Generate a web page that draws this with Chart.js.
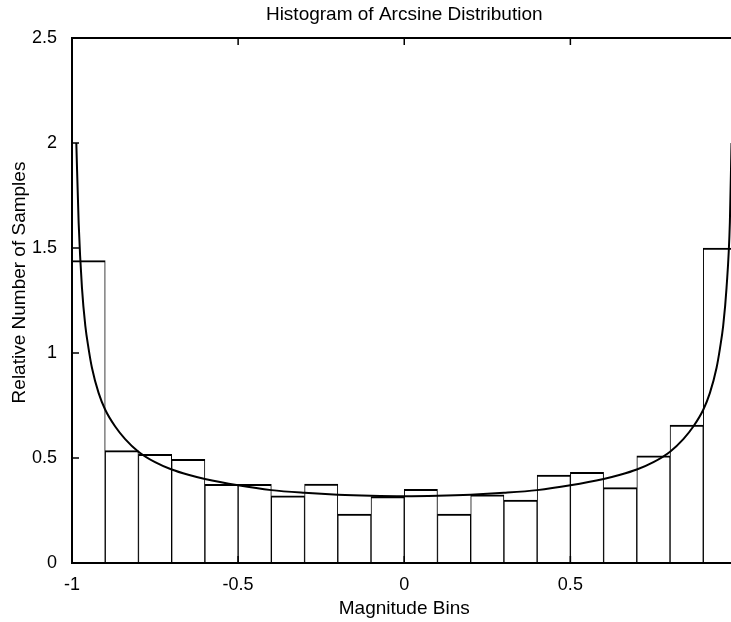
<!DOCTYPE html>
<html>
<head>
<meta charset="utf-8">
<title>Histogram of Arcsine Distribution</title>
<script src="https://cdn.jsdelivr.net/npm/chart.js@4/dist/chart.umd.min.js"></script>
<style>
  html, body { margin: 0; padding: 0; background: #fff; overflow: hidden; }
  #wrap { width: 744px; height: 622px; }
  canvas { display: block; }
</style>
</head>
<body>
<div id="wrap"><canvas id="chart" width="744" height="622"></canvas></div>
<script>
// Histogram bins (width 0.1) and their relative sample counts
const binCenters = [-0.95, -0.85, -0.75, -0.65, -0.55, -0.45, -0.35, -0.25, -0.15, -0.05,
                     0.05,  0.15,  0.25,  0.35,  0.45,  0.55,  0.65,  0.75,  0.85,  0.95];
const binHeights = [1.44, 0.535, 0.518, 0.494, 0.375, 0.375, 0.32, 0.376, 0.233, 0.316,
                    0.351, 0.233, 0.325, 0.30, 0.419, 0.432, 0.359, 0.51, 0.657, 1.50];

// Theoretical arcsine density overlaid on the histogram
const curveX = [-0.987, -0.98, -0.97, -0.96, -0.95, -0.94, -0.92, -0.90, -0.87, -0.84,
                -0.80, -0.75, -0.70, -0.65, -0.60, -0.50, -0.40, -0.30, -0.20, -0.10,
                 0.00,  0.10,  0.20,  0.30,  0.40,  0.50,  0.60,  0.65,  0.70,  0.75,
                 0.80,  0.84,  0.87,  0.90,  0.92,  0.94,  0.95,  0.96,  0.97,  0.98, 0.985];
const curveY = [2.00, 1.62, 1.31, 1.13, 1.02, 0.93, 0.81, 0.73, 0.65, 0.59,
                0.53, 0.48, 0.445, 0.42, 0.40, 0.37, 0.347, 0.334, 0.325, 0.32,
                0.318, 0.32, 0.325, 0.334, 0.347, 0.37, 0.40, 0.42, 0.445, 0.48,
                0.53, 0.59, 0.65, 0.73, 0.81, 0.93, 1.02, 1.13, 1.31, 1.62, 2.00];

// Axis ticks
const xTickValues = [-1, -0.5, 0, 0.5, 1];
const xTickLabels = ['-1', '-0.5', '0', '0.5', '1'];
const yTickValues = [0, 0.5, 1, 1.5, 2, 2.5];
const yTickLabels = ['0', '0.5', '1', '1.5', '2', '2.5'];

const FONT = '"Liberation Sans", Arial, Helvetica, sans-serif';

// Box frame, inward tick marks and the rotated y-axis label
const frameAndTicks = {
  id: 'frameAndTicks',
  afterDraw(chart) {
    const { ctx, chartArea: a, scales: { x, y } } = chart;
    const len = 7;
    ctx.save();
    ctx.strokeStyle = '#000';
    ctx.lineWidth = 2;
    ctx.strokeRect(a.left, a.top, a.right - a.left, a.bottom - a.top);
    ctx.lineWidth = 1.5;
    ctx.beginPath();
    x.ticks.forEach((t, i) => {
      const px = x.getPixelForTick(i);
      ctx.moveTo(px, a.bottom); ctx.lineTo(px, a.bottom - len);
      ctx.moveTo(px, a.top);    ctx.lineTo(px, a.top + len);
    });
    y.ticks.forEach((t, i) => {
      const py = y.getPixelForTick(i);
      ctx.moveTo(a.left, py);  ctx.lineTo(a.left + len, py);
    });
    ctx.stroke();

    ctx.translate(20, (a.top + a.bottom) / 2 - 18);
    ctx.rotate(-Math.PI / 2);
    ctx.fillStyle = '#000';
    ctx.font = '19px ' + FONT;
    ctx.textAlign = 'center';
    ctx.textBaseline = 'middle';
    ctx.fillText('Relative Number of Samples', 0, 0);
    ctx.restore();
  }
};

new Chart(document.getElementById('chart'), {
  type: 'bar',
  data: {
    datasets: [
      {
        type: 'line',
        data: curveX.map((v, i) => ({ x: v, y: curveY[i] })),
        borderColor: '#000',
        borderWidth: 2,
        pointRadius: 0,
        fill: false,
        cubicInterpolationMode: 'monotone',
        order: 0
      },
      {
        type: 'bar',
        data: binCenters.map((c, i) => ({ x: c, y: binHeights[i] })),
        backgroundColor: '#fff',
        borderColor: '#000',
        borderWidth: { top: 2, left: 1, right: 1, bottom: 0 },
        borderSkipped: false,
        barPercentage: 1,
        categoryPercentage: 1,
        order: 1
      }
    ]
  },
  options: {
    responsive: false,
    maintainAspectRatio: false,
    animation: false,
    devicePixelRatio: 1,
    layout: { padding: { left: 0, right: 7.5, top: 0, bottom: 0 } },
    plugins: {
      legend: { display: false },
      tooltip: { enabled: false },
      title: {
        display: true,
        text: 'Histogram of Arcsine Distribution',
        fullSize: false,
        color: '#000',
        font: { family: FONT, size: 19, weight: 'normal', lineHeight: 1.2 },
        padding: { top: 3, bottom: 12.2 }
      }
    },
    scales: {
      x: {
        type: 'linear',
        min: -1,
        max: 1,
        offset: false,
        grid: { display: false, offset: false },
        border: { display: false },
        afterBuildTicks: (scale) => { scale.ticks = xTickValues.map(v => ({ value: v })); },
        afterFit: (scale) => {
          scale.height = 59;
          scale.paddingLeft = 0;
          scale.paddingRight = 0;
        },
        ticks: {
          color: '#000',
          font: { family: FONT, size: 18 },
          padding: 3,
          maxRotation: 0,
          autoSkip: false,
          callback: (v) => xTickLabels[xTickValues.indexOf(v)]
        },
        title: {
          display: true,
          text: 'Magnitude Bins',
          color: '#000',
          font: { family: FONT, size: 19, lineHeight: 1.2 },
          padding: { top: 0, bottom: 2 }
        }
      },
      y: {
        min: 0,
        max: 2.5,
        grid: { display: false },
        border: { display: false },
        afterBuildTicks: (scale) => { scale.ticks = yTickValues.map(v => ({ value: v })); },
        afterFit: (scale) => {
          scale.width = 72;
          scale.paddingTop = 0;
          scale.paddingBottom = 0;
        },
        ticks: {
          color: '#000',
          font: { family: FONT, size: 18 },
          padding: 7,
          autoSkip: false,
          callback: (v) => yTickLabels[yTickValues.indexOf(v)]
        }
      }
    }
  },
  plugins: [frameAndTicks]
});
</script>
</body>
</html>
